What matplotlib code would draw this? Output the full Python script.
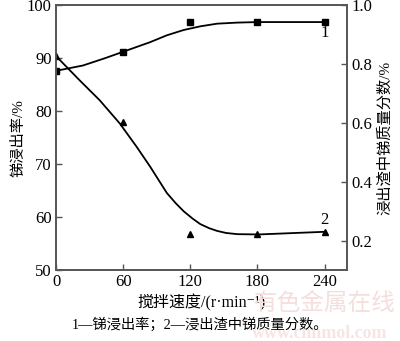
import matplotlib

matplotlib.use("Agg")
import matplotlib.pyplot as plt

plt.rcParams["font.family"] = ["Liberation Serif", "Noto Sans CJK SC", "DejaVu Sans"]

# stirring speed, r/min
speed = [0, 60, 120, 180, 240]
# 1 - Sb leaching rate, % (left axis)
leach_rate = [87.5, 91.2, 96.9, 96.8, 96.8]
# 2 - Sb mass fraction in leach residue, % (right axis)
residue_sb = [0.827, 0.604, 0.221, 0.221, 0.230]

# fitted trend lines, sampled off the figure
fit1_x = [0, 24, 44, 60, 72, 84, 99, 114, 129, 144, 162, 180, 240]
fit1_y = [87.6, 88.6, 90.0, 91.2, 92.1, 93.0, 94.3, 95.3, 96.0, 96.5, 96.7, 96.8, 96.8]
fit2_x = [0, 21, 39, 57, 72, 84, 92, 99, 107, 114, 122, 129, 137, 144, 152, 162, 181, 240]
fit2_y = [0.827, 0.745, 0.677, 0.598, 0.519, 0.452, 0.404, 0.362, 0.327, 0.300, 0.275,
          0.256, 0.242, 0.233, 0.226, 0.222, 0.221, 0.230]

AX_COLOR = "#555555"

fig = plt.figure(figsize=(4.0, 3.41), dpi=100)
ax = fig.add_axes([0.14, 0.208, 0.7275, 0.777])
ax2 = ax.twinx()

ax.plot(fit1_x, fit1_y, color="black", lw=1.3)
ax.plot(speed, leach_rate, ls="none", marker="s", ms=5, color="black")
ax2.plot(fit2_x, fit2_y, color="black", lw=1.3)
ax2.plot(speed, residue_sb, ls="none", marker="^", ms=5, color="black")

ax.set_xlim(0, 260)
ax.set_ylim(50, 100)
ax2.set_ylim(0.1, 1.0)
ax.set_xticks(speed)
ax.set_yticks([50, 60, 70, 80, 90, 100])
ax2.set_yticks([0.2, 0.4, 0.6, 0.8, 1.0])
ax2.set_yticklabels(["0.2", "0.4", "0.6", "0.8", "1.0"])

for a in (ax, ax2):
    for sp in a.spines.values():
        sp.set_color(AX_COLOR)
        sp.set_linewidth(1.2)
    a.tick_params(direction="in", length=4, width=1, color=AX_COLOR,
                  labelsize=12, pad=3)

ax.set_ylabel("锑浸出率/%", fontsize=11, labelpad=1)
ax2.set_ylabel("浸出渣中锑质量分数/%", fontsize=11, labelpad=4)
ax.set_xlabel("搅拌速度/(r·min⁻¹)", fontsize=11.5, labelpad=3)

ax.text(240, 94.7, "1", ha="center", va="center", fontsize=12)
ax2.text(240, 0.27, "2", ha="center", va="center", fontsize=12)

# watermark
fig.text(0.81, 0.108, "有色金属在线", ha="center", va="center", fontsize=17,
         color="#f5dede", zorder=0)
fig.text(0.80, 0.022, "www.cnnmol.com", ha="center", va="center", fontsize=13,
         color="#f7e4e4", weight="bold", zorder=0)

fig.text(0.5, 0.047, "1—锑浸出率；2—浸出渣中锑质量分数。", ha="center",
         va="center", fontsize=10.3)

fig.savefig("out.png", dpi=100)
